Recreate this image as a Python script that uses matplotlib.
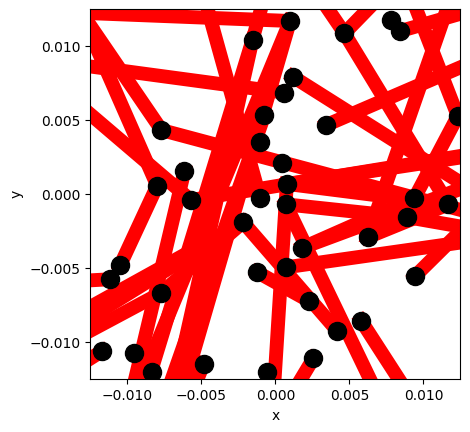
import matplotlib
matplotlib.use("Agg")
import matplotlib.pyplot as plt

# node positions (visible dots first, then nodes lying outside the view), units of 1e-3
node_x = [0.99, -1.55, 4.66, 7.82, 8.43, 1.17, 0.61, -0.74, 3.43, 12.32,
          -7.70, -1.03, -6.15, 0.47, -7.99, 0.77, -5.72, -1.03, 0.70, 9.39,
          11.69, 8.92, -2.18, 6.22, 1.82, -10.49, 0.74, -1.22, 9.44, -11.15,
          -7.70, 2.28, 5.79, 4.19, -11.71, -9.53, 2.57, -4.86, -8.35, -0.58,
          -14.1, -13.5, -13.4, -14.1, -15.2, -14.1, -14.1, -14.1, -4.19, -14.1,
          -9.71, -9.59, -0.81, -8.92, -4.75, 12.93, 13.38, 3.36, 6.85, 13.38,
          9.10, 11.80, 12.93, 13.38, -0.09, 6.85, 9.10, 0.95, -5.65, -6.89,
          -6.33, -7.34, 12.93, 12.93, 12.93, -14.1, 13.2]
node_y = [11.71, 10.43, 10.88, 11.78, 11.03, 7.95, 6.87, 5.36, 4.68, 5.29,
          4.34, 3.55, 1.57, 2.09, 0.58, 0.70, -0.39, -0.27, -0.68, -0.27,
          -0.68, -1.55, -1.89, -2.91, -3.61, -4.80, -4.93, -5.27, -5.52, -5.74,
          -6.65, -7.21, -8.54, -9.24, -10.59, -10.74, -11.08, -11.47, -12.03, -12.03,
          12.3, 13.1, 12.7, 8.85, 7.7, -5.9, -8.49, -10.07, -4.12, -12.1,
          -13.45, -13.90, 13.13, -13.67, 13.13, 0.52, 8.96, 12.79, 13.13, 12.45,
          13.58, 13.13, -3.20, -1.62, -13.0, -13.45, -13.67, -13.78, -13.45, -13.45,
          -13.45, -13.45, -1.17, 2.66, 2.55, -9.3, -2.3]

# edges as pairs of node indices
edges = [(40, 0), (41, 14), (42, 10), (43, 6), (44, 16), (45, 29), (46, 22),
         (47, 30), (49, 34), (50, 12), (51, 0), (52, 1), (1, 53), (54, 17),
         (55, 5), (55, 24), (56, 8), (57, 2), (2, 20), (58, 2), (59, 4),
         (60, 9), (61, 23), (62, 26), (63, 28), (64, 15), (65, 18), (66, 32),
         (67, 36), (68, 37), (69, 1), (70, 0), (71, 7), (72, 10), (73, 16),
         (74, 15), (14, 25), (24, 19), (15, 20), (22, 33), (27, 31),
         (75, 22), (30, 22), (18, 21), (23, 20), (21, 76), (9, 19)]

n_dots = 40
scale = 1e-3

fig = plt.figure(figsize=(4.7, 4.32), dpi=100)
ax = fig.add_axes([0.1921, 0.1220, 0.7879, 0.8565])

for a, b in edges:
    ax.plot([node_x[a] * scale, node_x[b] * scale],
            [node_y[a] * scale, node_y[b] * scale],
            color='red', linewidth=10, zorder=1)

ax.plot([v * scale for v in node_x[:n_dots]], [v * scale for v in node_y[:n_dots]],
        'o', color='black', markersize=13, zorder=2, linestyle='none')

ax.set_xlim(-0.0125, 0.0125)
ax.set_ylim(-0.0125, 0.0125)
ax.set_aspect('equal')
ax.set_xticks([-0.01, -0.005, 0.0, 0.005, 0.01])
ax.set_yticks([-0.01, -0.005, 0.0, 0.005, 0.01])
ax.set_xlabel('x')
ax.set_ylabel('y')

fig.savefig('out.png', dpi=100)
